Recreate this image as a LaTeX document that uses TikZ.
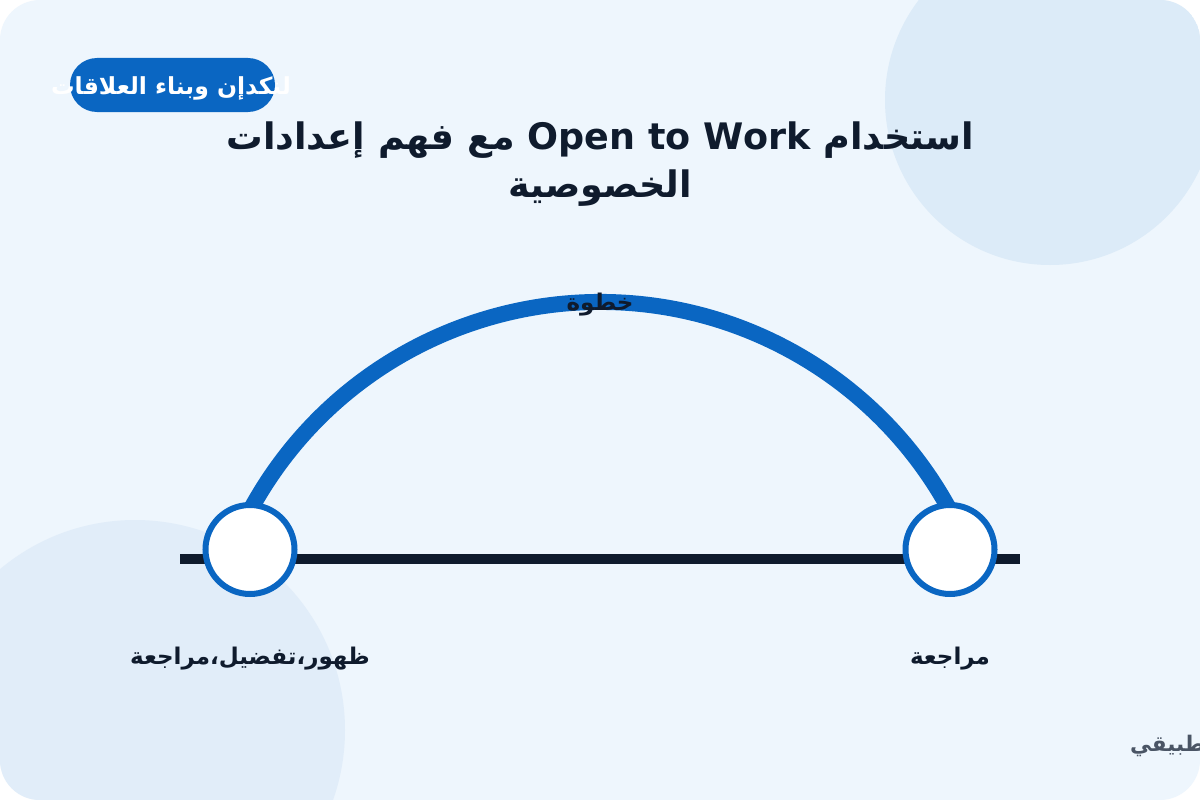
\documentclass[tikz,border=0pt]{standalone}
\usepackage{fontspec}
\TeXXeTstate=1
\newfontfamily\arabicfont[Script=Arabic]{DejaVu Sans}
\definecolor{bgblue}{HTML}{EEF6FD}
\definecolor{circA}{HTML}{DCEBF8}
\definecolor{circB}{HTML}{E1EDF9}
\definecolor{brand}{HTML}{0A66C2}
\definecolor{ink}{HTML}{0F1B2D}
\definecolor{grayink}{HTML}{4A5565}
\tikzset{
  stepnode/.style={circle, draw=brand, line width=6pt, fill=white, minimum size=89pt, inner sep=0pt},
  arcline/.style={draw=brand, line width=16pt},
  baseline/.style={draw=ink, line width=10pt},
  lbl/.style={font=\arabicfont\bfseries\fontsize{23}{27}\selectfont, text=ink, inner sep=0pt},
  pill/.style={fill=brand, rounded corners=27pt, minimum width=205pt, minimum height=54pt, inner sep=0pt},
}
\begin{document}
\begin{tikzpicture}[x=1pt,y=-1pt]
\useasboundingbox (0,0) rectangle (1200,800);
\fill[white] (0,0) rectangle (1200,800);
\begin{scope}
\clip[rounded corners=40pt] (0,0) rectangle (1200,800);
\fill[bgblue] (0,0) rectangle (1200,800);
\fill[circA] (1050,100) circle[radius=165];
\fill[circB] (135,730) circle[radius=210];
\end{scope}
% badge
\node[pill] (badge) at (172.5,85) {};
\node[font=\arabicfont\bfseries\fontsize{23.5}{27}\selectfont, text=white, inner sep=0pt] (badgetxt) at (171,88) {\beginR لنكدإن وبناء العلاقات\endR};
% title
\node[font=\arabicfont\bfseries\fontsize{36.5}{48}\selectfont, text=ink, align=center, inner sep=0pt] (title) at (600,164)
  {\beginR استخدام \beginL Open to Work\endL{} مع فهم إعدادات\endR\\ \beginR الخصوصية\endR};
% timeline
\coordinate (lineL) at (180,559);
\coordinate (lineR) at (1020,559);
\draw[baseline] (lineL) -- (lineR);
\coordinate (arcC) at (600,700);
\draw[arcline] (arcC) ++(208.4:398) arc[start angle=208.4, end angle=331.6, radius=398];
\node[stepnode] (s1) at (250,549.5) {};
\node[stepnode] (s2) at (950,549.5) {};
\node[lbl] (arclbl) at (600,305) {\beginR خطوة\endR};
\node[lbl] (l1) at (250,659) {\beginR ظهور،تفضيل،مراجعة\endR};
\node[lbl] (l2) at (950,659) {\beginR مراجعة\endR};
\node[font=\arabicfont\bfseries\fontsize{21.5}{26}\selectfont, text=grayink, inner sep=0pt, anchor=east] (side) at (1214,746) {\beginR تطبيقي\endR};
\end{tikzpicture}
\end{document}
